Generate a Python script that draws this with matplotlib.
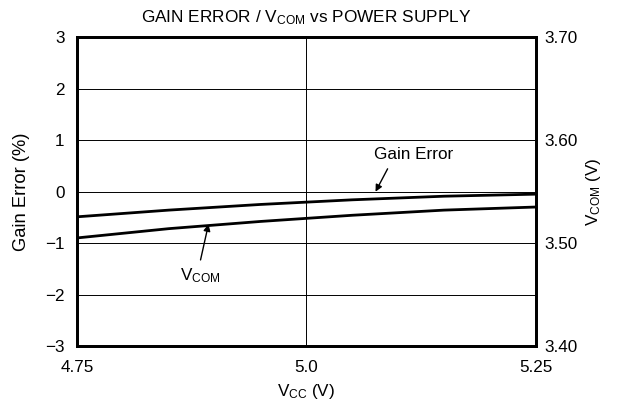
import numpy as np
import matplotlib.pyplot as plt

plt.rcParams['font.family'] = ['Liberation Sans', 'DejaVu Sans']
plt.rcParams['mathtext.fontset'] = 'custom'
plt.rcParams['mathtext.rm'] = 'Liberation Sans'
plt.rcParams['mathtext.it'] = 'Liberation Sans'
plt.rcParams['font.size'] = 12.3

# supply voltage (V)
vcc = [4.75, 4.85, 4.95, 5.05, 5.15, 5.25]
# gain error (%), left axis
gain_error = [-0.49, -0.36, -0.25, -0.16, -0.09, -0.05]
# common-mode voltage (V), right axis
vcom = [3.505, 3.514, 3.521, 3.527, 3.532, 3.535]

left_ticks = [-3, -2, -1, 0, 1, 2, 3]
right_ticks = [3.40, 3.50, 3.60, 3.70]
x_ticks = [4.75, 5.0, 5.25]
x_labels = ['4.75', '5.0', '5.25']

fig = plt.figure(figsize=(6.19, 4.12), dpi=100)
ax = fig.add_axes([0.1244, 0.160, 0.741, 0.750])
ax2 = ax.twinx()

ax.plot(vcc, gain_error, color='black', lw=2)
ax2.plot(vcc, vcom, color='black', lw=2)

ax.set_xlim(4.75, 5.25)
ax.set_ylim(-3, 3)
ax2.set_ylim(3.40, 3.70)
ax.set_xticks(x_ticks)
ax.set_xticklabels(x_labels)
ax.set_yticks(left_ticks)
ax.set_yticklabels([str(t).replace('-', '\u2212') for t in left_ticks])
ax2.set_yticks(right_ticks)
ax2.set_yticklabels(['%.2f' % t for t in right_ticks])

ax.grid(True, color='black', lw=0.7)
ax.tick_params(axis='y', length=0, pad=9)
ax.tick_params(axis='x', length=0, pad=10)
ax2.tick_params(length=0, pad=6)
for a in (ax, ax2):
    for s in a.spines.values():
        s.set_linewidth(2)

ax.set_xlabel(r'V$_{\mathrm{CC}}$ (V)', labelpad=5)
ax.set_ylabel('Gain Error (%)', labelpad=11, fontsize=13.2)
ax2.set_ylabel(r'V$_{\mathrm{COM}}$ (V)', labelpad=5)
ax.set_title(r'GAIN ERROR / V$_{\mathrm{COM}}$ vs POWER SUPPLY', pad=11, fontsize=12.4)

arrow = dict(arrowstyle='-|>', color='black', lw=1, mutation_scale=10)
ax.annotate('', xy=(5.074, -0.05), xytext=(5.09, 0.49), arrowprops=arrow)
ax.text(5.117, 0.72, 'Gain Error', ha='center', va='center')
ax.annotate('', xy=(4.894, -0.58), xytext=(4.884, -1.38), arrowprops=arrow)
ax.text(4.884, -1.64, r'V$_{\mathrm{COM}}$', ha='center', va='center')

fig.savefig('out.png', dpi=100)
